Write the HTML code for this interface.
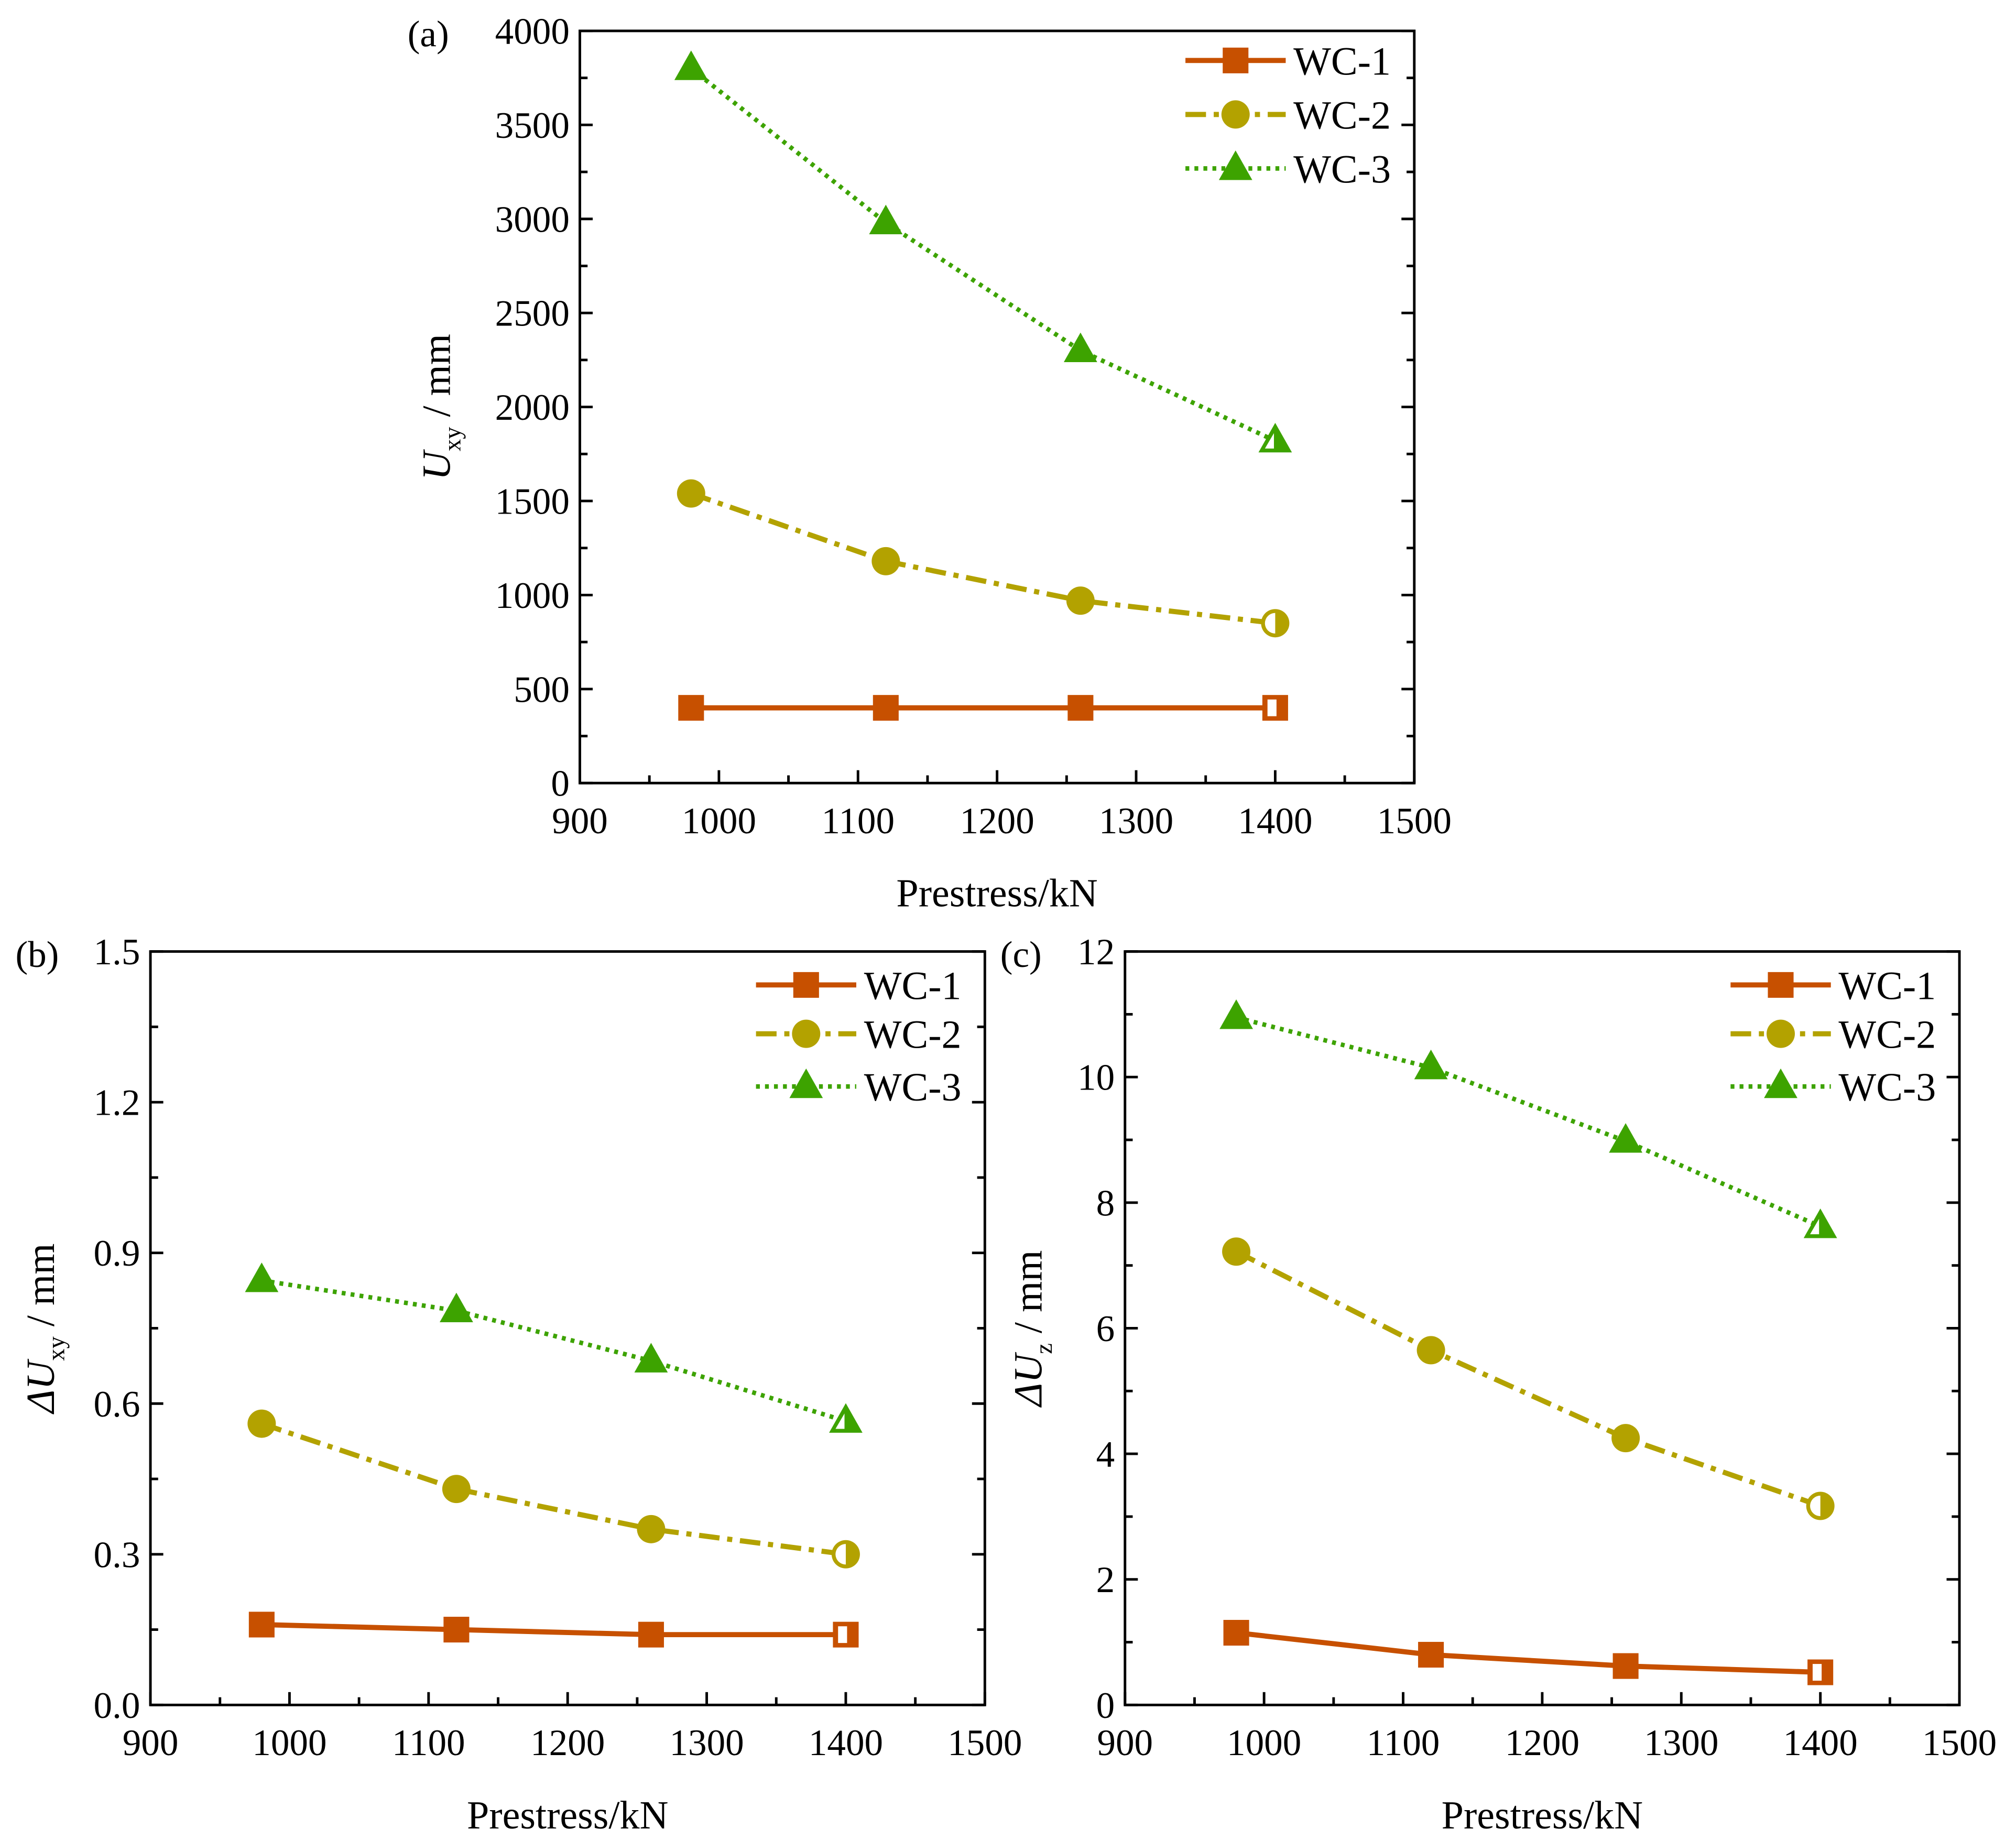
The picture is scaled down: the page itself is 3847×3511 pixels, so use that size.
<!DOCTYPE html>
<html><head><meta charset="utf-8"><style>
html,body{margin:0;padding:0;background:#fff;}
svg{display:block;font-family:"Liberation Serif",serif;}
</style></head><body>
<svg id="fig" width="3847" height="3511" viewBox="0 0 1568 1431" xmlns="http://www.w3.org/2000/svg"></svg>
<script>
const xValues = [980, 1120, 1260, 1400];
const seriesNames = ["WC-1", "WC-2", "WC-3"];
const aWC1 = [400, 400, 400, 400];
const aWC2 = [1540, 1180, 970, 850];
const aWC3 = [3800, 2980, 2300, 1820];
const bWC1 = [0.16, 0.15, 0.14, 0.14];
const bWC2 = [0.56, 0.43, 0.35, 0.30];
const bWC3 = [0.845, 0.785, 0.685, 0.565];
const cWC1 = [1.15, 0.80, 0.62, 0.52];
const cWC2 = [7.22, 5.65, 4.25, 3.17];
const cWC3 = [10.95, 10.15, 8.98, 7.62];
const xTicks = [900, 1000, 1100, 1200, 1300, 1400, 1500];
const aYTicks = [0, 500, 1000, 1500, 2000, 2500, 3000, 3500, 4000];
const bYTicks = [0.0, 0.3, 0.6, 0.9, 1.2, 1.5];
const cYTicks = [0, 2, 4, 6, 8, 10, 12];

const NS = "http://www.w3.org/2000/svg";
const svg = document.getElementById("fig");
const COLORS = ["#c75000", "#b3a200", "#3da300"];
function mk(tag, attrs, parent) {
  const e = document.createElementNS(NS, tag);
  for (const k in attrs) e.setAttribute(k, attrs[k]);
  (parent || svg).appendChild(e);
  return e;
}
function marker(g, kind, cx, cy, color, half) {
  let m;
  if (kind === 0) {
    m = mk("rect", {x: cx-10, y: cy-10, width: 20, height: 20, fill: color}, g);
    if (half) mk("rect", {x: cx-6, y: cy-6.5, width: 7, height: 13, fill: "#fff"}, g);
  } else if (kind === 1) {
    m = mk("circle", {cx: cx, cy: cy, r: 11, fill: color}, g);
    if (half) mk("path", {d: `M${cx} ${cy-8} A8 8 0 0 0 ${cx} ${cy+8} Z`, fill: "#fff"}, g);
  } else {
    m = mk("polygon", {points: `${cx},${cy-14} ${cx+13},${cy+9} ${cx-13},${cy+9}`, fill: color}, g);
    if (half) mk("polygon", {points: `${cx-1},${cy-6} ${cx-1},${cy+6} ${cx-8},${cy+6}`, fill: "#fff"}, g);
  }
  
  
}
const DASH = [null, "16 6 4 6", "3 4"];

function panel(cfg) {
  const g = mk("g", {});
  
  
  const {L, R, T, B, ymax, yTicks, yMinorStep, series, dec} = cfg;
  const sx = v => L + (v - 900) / 600 * (R - L);
  const sy = v => B - v / ymax * (B - T);
  for (let v = 900; v <= 1500; v += 50) {
    const major = v % 100 === 0;
    const t = mk("line", {x1: sx(v), x2: sx(v), y1: B, y2: B - (major ? 10 : 6), stroke: "#000", "stroke-width": 2}, g);
    
    
  }
  xTicks.forEach(v => {
    const t = mk("text", {x: sx(v), y: B + 39, "font-size": 29, "text-anchor": "middle"}, g);
    t.textContent = v;
    
    
  });
  for (let v = 0; v <= ymax + 1e-9; v += yMinorStep) {
    const major = yTicks.some(t => Math.abs(t - v) < 1e-9);
    const len = major ? 10 : 6;
    mk("line", {x1: L, x2: L + len, y1: sy(v), y2: sy(v), stroke: "#000", "stroke-width": 2}, g);
    mk("line", {x1: R, x2: R - len, y1: sy(v), y2: sy(v), stroke: "#000", "stroke-width": 2}, g);
  }
  yTicks.forEach(v => {
    const t = mk("text", {x: L - 8, y: sy(v) + 10, "font-size": 29, "text-anchor": "end"}, g);
    t.textContent = dec ? v.toFixed(dec) : v;
    
    
  });
  const fr = mk("rect", {x: L, y: T, width: R - L, height: B - T, fill: "none", stroke: "#000", "stroke-width": 2}, g);
  
  
  series.forEach((vals, i) => {
    const pts = vals.map((v, j) => `${sx(xValues[j])},${sy(v)}`).join(" ");
    const pl = mk("polyline", {points: pts, fill: "none", stroke: COLORS[i], "stroke-width": i === 2 ? 3.5 : 4}, g);
    if (DASH[i]) pl.setAttribute("stroke-dasharray", DASH[i]);
    
    
    vals.forEach((v, j) => marker(g, i, sx(xValues[j]), sy(v), COLORS[i], j === vals.length - 1));
  });
  const lg = mk("g", {}, g);
  
  
  seriesNames.forEach((n, i) => {
    const y = cfg.legY[i];
    const ln = mk("line", {x1: cfg.legX, x2: cfg.legX + 78, y1: y, y2: y, stroke: COLORS[i], "stroke-width": i === 2 ? 3.5 : 4}, lg);
    if (DASH[i]) ln.setAttribute("stroke-dasharray", i === 1 ? "16 6 4 6" : "3 4");
    
    
    marker(lg, i, cfg.legX + 39, y, COLORS[i], false);
    const t = mk("text", {x: cfg.legX + 84, y: y + 11, "font-size": 31}, lg);
    t.textContent = n;
    
    
  });
  const pl = mk("text", {x: cfg.plX, y: T + 12, "font-size": 29}, g);
  pl.textContent = cfg.label;
  
  
  const xt = mk("text", {x: (L + R) / 2, y: B + 96, "font-size": 31, "text-anchor": "middle"}, g);
  xt.textContent = "Prestress/kN";
  
  
  const yt = mk("text", {x: 0, y: 0, "font-size": 31, "text-anchor": "middle", transform: `translate(${cfg.ytX},${(T + B) / 2}) rotate(-90)`}, g);
  yt.innerHTML = cfg.ytitle;
  
  
}

panel({name: "panel-a", L: 451, R: 1100, T: 24, B: 609, ymax: 4000, yTicks: aYTicks, yMinorStep: 250, dec: 0,
  series: [aWC1, aWC2, aWC3], legX: 922, legY: [47, 89, 131], plX: 317, label: "(a)", ytX: 350,
  ytitle: '<tspan font-style="italic">U</tspan><tspan font-size="19" dy="8">xy</tspan><tspan dy="-8"> / mm</tspan>'});
panel({name: "panel-b", L: 117, R: 766, T: 740, B: 1326, ymax: 1.5, yTicks: bYTicks, yMinorStep: 0.15, dec: 1,
  series: [bWC1, bWC2, bWC3], legX: 588, legY: [766, 804, 845], plX: 12, label: "(b)", ytX: 42,
  ytitle: '<tspan font-style="italic">ΔU</tspan><tspan font-size="19" dy="8">xy</tspan><tspan dy="-8"> / mm</tspan>'});
panel({name: "panel-c", L: 875, R: 1524, T: 740, B: 1326, ymax: 12, yTicks: cYTicks, yMinorStep: 1, dec: 0,
  series: [cWC1, cWC2, cWC3], legX: 1346, legY: [766, 804, 845], plX: 778, label: "(c)", ytX: 810,
  ytitle: '<tspan font-style="italic">ΔU</tspan><tspan font-size="19" dy="8">z</tspan><tspan dy="-8"> / mm</tspan>'});
</script>
</body></html>
